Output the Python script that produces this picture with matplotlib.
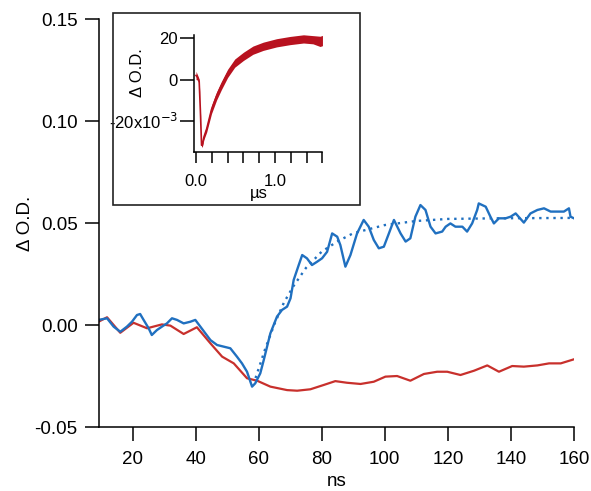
import numpy as np
import matplotlib
matplotlib.use('Agg')
import matplotlib.pyplot as plt
from matplotlib.patches import Rectangle

plt.rcParams['font.family'] = ['Liberation Sans', 'DejaVu Sans']

# main trace (blue)
t_blue = [9.2, 11.9, 14.0, 16.1, 18.2, 19.8, 21.4, 22.4, 23.5, 25.1, 26.1, 27.7, 29.3, 30.9,
          32.5, 34.1, 36.2, 38.3, 39.9, 41.5, 43.1, 44.7, 46.8, 48.9, 51.0, 53.1, 54.7, 56.3,
          57.9, 58.9, 60.5, 61.6, 63.7, 65.8, 67.4, 69.0, 70.1, 71.1, 72.7, 73.8, 75.3, 76.9,
          78.5, 80.1, 81.7, 83.3, 84.9, 85.9, 87.5, 89.1, 91.2, 93.3, 94.9, 96.5, 98.1, 99.7,
          101.3, 102.9, 105.0, 106.6, 108.1, 109.7, 111.3, 112.9, 114.5, 116.1, 118.2, 119.3,
          120.8, 122.4, 124.6, 126.1, 127.7, 129.3, 129.8, 132.0, 133.5, 134.6, 136.2, 138.3,
          139.9, 141.5, 144.1, 146.2, 148.4, 150.5, 152.6, 154.7, 156.8, 158.4, 158.9, 160.0]
od_blue = [0.0025, 0.0033, -0.0008, -0.0033, -0.0008, 0.0016, 0.0049, 0.0054, 0.0025, -0.0016,
           -0.0049, -0.0025, -0.0008, 0.0008, 0.0033, 0.0025, 0.0008, 0.0016, 0.0025, -0.0008,
           -0.0041, -0.0074, -0.0098, -0.0106, -0.0114, -0.0155, -0.0188, -0.0229, -0.0302,
           -0.0286, -0.0237, -0.0172, -0.0041, 0.0041, 0.0074, 0.0090, 0.0131, 0.0221, 0.0294,
           0.0343, 0.0327, 0.0294, 0.0310, 0.0327, 0.0359, 0.0449, 0.0433, 0.0392, 0.0286,
           0.0343, 0.0449, 0.0515, 0.0482, 0.0417, 0.0376, 0.0384, 0.0449, 0.0515, 0.0449,
           0.0409, 0.0425, 0.0531, 0.0588, 0.0564, 0.0482, 0.0449, 0.0458, 0.0482, 0.0498,
           0.0482, 0.0482, 0.0458, 0.0498, 0.0564, 0.0596, 0.0580, 0.0531, 0.0498, 0.0523,
           0.0523, 0.0531, 0.0547, 0.0502, 0.0547, 0.0564, 0.0572, 0.0556, 0.0556, 0.0556,
           0.0572, 0.0531, 0.0523]

# fit (dotted blue)
t_fit = [59, 62, 65, 68, 71, 75, 80, 85, 90, 95, 100, 110, 120, 135, 160]
od_fit = [-0.026, -0.012, 0.0005, 0.011, 0.019, 0.028, 0.036, 0.041, 0.045, 0.047, 0.049,
          0.051, 0.052, 0.0523, 0.0525]

# second trace (red)
t_red = [9.2, 11.9, 16.1, 20.3, 24.6, 29.3, 32.0, 36.2, 40.4, 44.7, 48.4, 52.1, 56.3, 59.5,
         63.7, 69.0, 72.2, 76.4, 80.6, 84.3, 88.0, 92.3, 96.5, 100.2, 103.9, 108.1, 112.4,
         116.6, 119.8, 124.0, 128.3, 132.5, 136.2, 140.4, 144.1, 148.4, 152.1, 155.8, 160.0]
od_red = [0.0016, 0.0038, -0.0038, 0.0011, -0.0016, 0.0003, -0.0003, -0.0044, -0.0011,
          -0.0090, -0.0155, -0.0188, -0.0261, -0.0273, -0.0302, -0.0319, -0.0322, -0.0315,
          -0.0294, -0.0275, -0.0283, -0.0289, -0.0278, -0.0253, -0.0250, -0.0273, -0.0240,
          -0.0229, -0.0229, -0.0245, -0.0224, -0.0198, -0.0229, -0.0201, -0.0204, -0.0198,
          -0.0188, -0.0188, -0.0168]

# inset trace (microseconds, x10^-3), centre and noise half width
t_inset = [0.0, 0.02, 0.04, 0.055, 0.07, 0.08, 0.10, 0.135, 0.196, 0.26, 0.32, 0.40, 0.49,
           0.60, 0.72, 0.85, 1.02, 1.19, 1.36, 1.48, 1.57, 1.6]
od_inset = [2, 1, -1, -15, -32, -32, -28, -24, -14.6, -8, -3, 3, 8, 11.3, 14.3, 16.2, 17.9,
            19.0, 19.8, 19.4, 18.6, 19.0]
noise_inset = [2, 1.2, 1.2, 0.8, 0.8, 0.8, 1.2, 1.6, 2, 2, 2, 2, 2, 2, 2, 2, 2,
               2, 2, 2, 2.5, 2.5]

x_ticks = [20, 40, 60, 80, 100, 120, 140, 160]
y_ticks = [-0.05, 0.00, 0.05, 0.10, 0.15]
y_ticklabels = ['-0.05', '0.00', '0.05', '0.10', '0.15']
inset_xticks = [0.0, 0.2, 0.4, 0.6, 0.8, 1.0, 1.2, 1.4, 1.6]
inset_xticklabels = ['0.0', '', '', '', '', '1.0', '', '', '']
inset_yticks = [-20, 0, 20]
inset_yticklabels = ['-20x10$^{-3}$', '0', '20']

blue = '#2070c0'
red = '#c8302c'
red_inset = '#b8121f'

fig = plt.figure(figsize=(5.91, 4.91), dpi=100)
ax = fig.add_axes([0.1667, 0.1303, 0.8045, 0.831])

ax.plot(t_red, od_red, color=red, lw=1.6)
ax.plot(t_blue, od_blue, color=blue, lw=1.7)
ax.plot(t_fit, od_fit, color=blue, lw=1.7, linestyle=(0, (1, 2)))

ax.set_xlim(9.2, 160)
ax.set_ylim(-0.05, 0.15)
ax.set_xticks(x_ticks)
ax.set_yticks(y_ticks)
ax.set_yticklabels(y_ticklabels)
for s in ['top', 'right']:
    ax.spines[s].set_visible(False)
for s in ['left', 'bottom']:
    ax.spines[s].set_linewidth(1.1)
ax.tick_params(direction='out', length=10, width=1.1, labelsize=13.5)
ax.tick_params(axis='x', pad=7)
ax.tick_params(axis='y', pad=5)
ax.set_xlabel('ns', fontsize=13.5, labelpad=4)
ax.set_ylabel('Δ O.D.', fontsize=13.5)
ax.yaxis.set_label_coords(-0.135, 0.5)

# inset frame
box = Rectangle((113 / 591, 1 - 205 / 491), 247 / 591, 192 / 491, transform=fig.transFigure,
                fill=False, edgecolor='#222222', lw=1.2, zorder=5)
fig.patches.append(box)

ins = fig.add_axes([0.329, 0.6904, 0.2166, 0.2383])
ins.patch.set_alpha(0)
lo = [c - n for c, n in zip(od_inset, noise_inset)]
hi = [c + n for c, n in zip(od_inset, noise_inset)]
ins.fill_between(t_inset, lo, hi, color=red_inset, lw=0)
ins.plot(t_inset, od_inset, color=red_inset, lw=1.2)
ins.set_xlim(-0.02, 1.6)
ins.set_ylim(-35.3, 21.7)
ins.set_xticks(inset_xticks)
ins.set_xticklabels(inset_xticklabels)
ins.set_yticks(inset_yticks)
ins.set_yticklabels(inset_yticklabels)
for s in ['top', 'right']:
    ins.spines[s].set_visible(False)
for s in ['left', 'bottom']:
    ins.spines[s].set_linewidth(1.1)
ins.tick_params(direction='out', width=1.1, labelsize=12)
ins.tick_params(axis='x', length=8, pad=8)
ins.tick_params(axis='y', length=10, pad=2)
ins.set_xlabel('µs', fontsize=12, labelpad=-2)
ins.set_ylabel('Δ O.D.', fontsize=12)
ins.yaxis.set_label_coords(-0.39, 0.68)

fig.savefig('out.png', dpi=100)
